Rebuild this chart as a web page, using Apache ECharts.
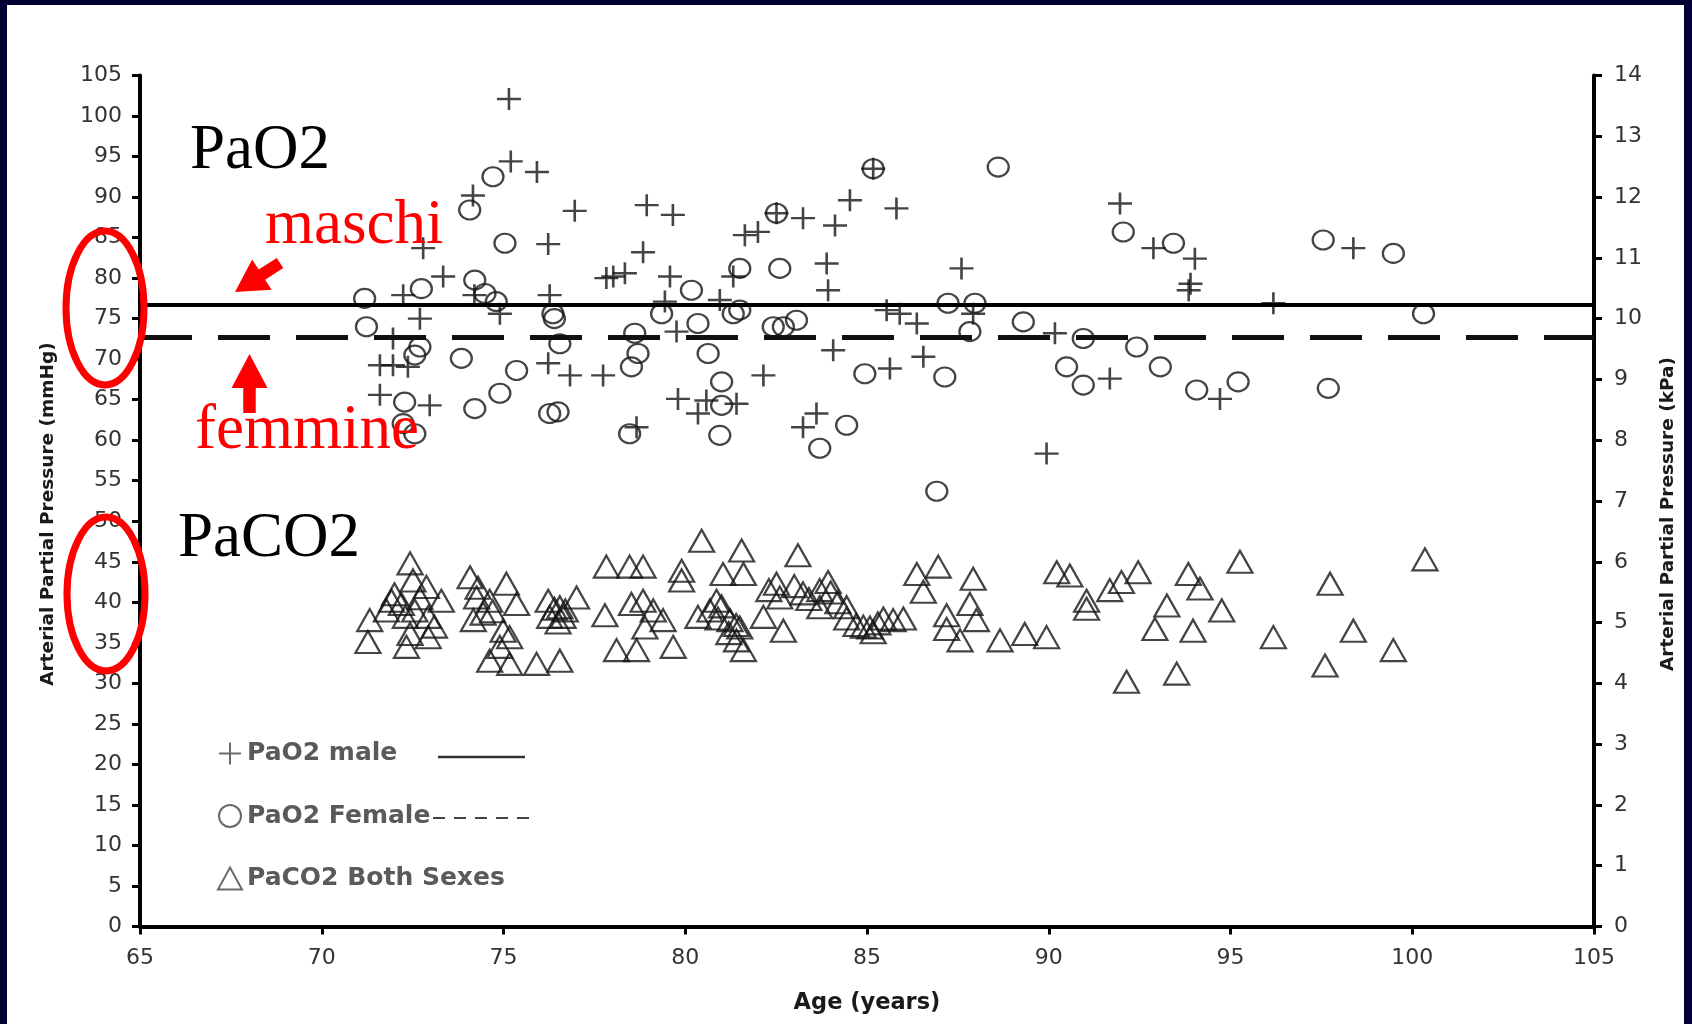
<!DOCTYPE html>
<html><head><meta charset="utf-8">
<script src="https://cdn.jsdelivr.net/npm/echarts@6/dist/echarts.min.js"></script>
<style>
html,body{margin:0;padding:0;background:#000033;width:1692px;height:1024px;overflow:hidden}
#paper{position:absolute;left:7px;top:5px;width:1677px;height:1019px;background:#fff}
#chart{position:absolute;left:0;top:0;width:1692px;height:1024px}
</style></head><body>
<div id="paper"></div><div id="chart"></div>
<script>
// ---- data ----
const ageMin = 65, ageMax = 105;
const mmHgMax = 105, kPaMax = 14;
const maleMean = 76.7;
const femaleMean = 72.75;

const maleAge = [75.15,75.2,75.92,74.16,76.96,78.94,79.66,76.23,78.84,72.79,73.34,77.83,78.02,78.34,79.58,72.24,72.7,76.27,79.44,74.2,74.9,71.96,71.6,71.96,72.37,71.6,72.97,76.23,76.83,77.74,78.66,79.8,79.76,81.64,82.0,82.51,83.24,84.12,84.53,85.17,85.81,83.89,83.93,81.32,80.95,85.54,85.9,86.37,87.6,87.92,84.07,82.15,85.63,86.55,80.58,81.41,80.35,83.61,83.24,89.94,90.17,91.68,91.96,92.88,94.02,93.9,93.85,96.18,98.38,94.71];
const malePaO2 = [102.1,94.4,93.1,90.2,88.3,89.0,87.8,84.2,83.2,83.7,80.2,80.0,80.2,80.6,80.2,77.9,75.0,77.9,77.1,77.9,75.6,72.55,69.25,69.25,69.05,65.6,64.3,69.5,68.0,68.0,61.6,65.1,73.4,85.3,85.7,88.0,87.4,86.5,89.6,93.5,88.6,81.8,78.5,80.2,77.3,76.05,75.6,74.4,81.2,75.6,71.1,68.0,68.85,70.3,64.9,64.5,63.3,63.3,61.6,58.35,73.2,67.6,89.2,83.7,82.4,79.3,78.5,76.9,83.7,65.1];

const femaleAge = [74.71,74.07,75.04,71.18,72.74,74.21,74.49,74.8,76.36,76.4,76.55,71.23,72.7,72.56,73.84,75.36,74.9,74.21,76.27,76.5,72.28,72.24,72.56,78.52,78.7,78.61,79.35,78.47,85.17,88.61,82.51,92.05,81.5,82.6,80.17,80.35,81.32,81.5,82.42,82.7,83.06,80.63,81.0,81.0,80.95,83.7,84.44,84.94,87.14,87.23,87.97,87.83,89.3,90.95,90.49,90.95,92.42,93.07,93.43,97.55,99.48,100.31,94.07,95.21,97.69,86.92];
const femalePaO2 = [92.5,88.4,84.3,77.5,78.7,79.75,78.1,77.1,75.6,75.0,71.9,74.0,71.5,70.5,70.1,68.6,65.8,63.9,63.3,63.5,64.7,62.05,60.8,69.05,70.7,73.2,75.6,60.8,93.5,93.7,88.0,85.7,81.2,81.2,78.5,74.4,75.6,76.05,74.0,74.0,74.8,70.7,67.2,64.3,60.6,59.0,61.85,68.2,67.8,76.9,76.9,73.4,74.6,72.55,69.05,66.8,71.5,69.05,84.3,84.7,83.05,75.6,66.2,67.2,66.4,53.7];

const co2Age = [72.43,71.27,71.32,71.92,72.33,72.51,72.88,72.19,72.56,72.93,72.43,72.93,73.29,71.78,72.0,72.7,72.3,73.1,74.08,75.08,74.26,74.62,75.36,74.17,74.44,74.99,75.17,74.62,75.17,75.91,76.55,74.9,74.3,74.7,76.23,76.55,77.01,76.27,76.64,76.4,76.7,76.5,77.83,78.47,78.84,77.79,78.11,78.66,78.52,78.84,79.12,78.89,79.67,79.39,80.45,79.9,79.9,81.55,81.04,81.6,83.1,80.35,80.68,80.86,81.23,81.5,81.41,81.6,80.9,81.2,81.4,81.0,82.15,82.6,82.7,82.51,82.3,83.0,83.24,83.7,83.7,83.4,83.93,84.44,84.44,84.2,84.0,84.7,84.9,85.3,85.08,85.45,85.72,86.0,85.17,86.37,86.96,86.55,87.92,87.83,87.19,88.01,87.19,87.56,88.66,89.34,89.94,90.22,90.58,91.04,91.04,91.68,92.0,92.46,93.84,94.16,93.25,94.76,92.92,93.97,95.26,96.18,92.14,93.52,97.74,98.38,97.6,99.48,100.35];
const co2PaCO2 = [44.8,35.1,37.8,40.2,34.5,42.7,41.9,39.8,39.0,38.2,36.1,35.7,40.2,39.0,41.0,40.5,38.2,37.0,43.1,42.3,40.6,40.2,39.8,37.8,38.6,36.5,35.7,32.8,32.4,32.4,32.8,34.5,41.8,38.9,40.2,39.4,40.6,38.2,38.2,39.2,39.0,37.5,44.4,44.4,44.4,38.4,34.1,34.1,39.8,40.2,39.0,36.9,34.5,37.8,47.6,43.9,42.7,46.4,43.5,43.5,45.8,38.2,39.0,40.2,37.8,36.9,35.3,34.1,38.0,36.2,37.2,39.5,38.2,40.6,36.5,42.3,41.5,42.0,41.1,41.5,39.4,40.4,42.5,39.4,38.0,40.0,41.2,37.2,37.0,37.4,36.9,38.0,37.8,38.0,36.3,43.5,44.4,41.3,42.9,39.8,38.4,37.8,36.7,35.3,35.3,36.1,35.7,43.7,43.3,40.2,39.2,41.5,42.5,43.7,43.5,41.7,39.6,39.0,36.7,36.5,45.0,35.7,30.2,31.2,42.3,36.5,32.2,34.1,45.3];

const seriesNames = ['PaO2 male', 'PaO2 Female', 'PaCO2 Both Sexes'];
const xAxisName = 'Age (years)';
const yLeftName = 'Arterial Partial Pressure (mmHg)';
const yRightName = 'Arterial Partial Pressure (kPa)';

// ---- build ----
const zip = (a, b) => a.map((v, i) => [v, b[i]]);
const plusPath = 'path://M12,0 L12,24 M0,12 L24,12';
const markStyle = {color: 'rgba(0,0,0,0)', borderColor: '#151515', borderWidth: 2.2};
const tickFont = {fontFamily: 'DejaVu Sans', fontSize: 22, color: '#333'};
const nameFont = {fontFamily: 'DejaVu Sans', fontWeight: 'bold', color: '#1a1a1a'};
const serif = '63px "Liberation Serif", "Times New Roman", serif';

function arrow(x1, y1, x2, y2, sw, hl, hw) {
  const L = Math.hypot(x2 - x1, y2 - y1), dx = (x2 - x1) / L, dy = (y2 - y1) / L;
  const nx = -dy, ny = dx, bx = x2 - dx * hl, by = y2 - dy * hl;
  return [[x1 + nx * sw / 2, y1 + ny * sw / 2], [bx + nx * sw / 2, by + ny * sw / 2], [bx + nx * hw / 2, by + ny * hw / 2],
          [x2, y2], [bx - nx * hw / 2, by - ny * hw / 2], [bx - nx * sw / 2, by - ny * sw / 2], [x1 - nx * sw / 2, y1 - ny * sw / 2]];
}

const chart = echarts.init(document.getElementById('chart'), null, {renderer: 'canvas'});
chart.setOption({
  animation: false,
  backgroundColor: 'transparent',
  grid: {left: 140, right: 98, top: 75.5, bottom: 97.5},
  xAxis: {
    type: 'value', min: ageMin, max: ageMax, interval: 5,
    name: xAxisName, nameLocation: 'middle', nameGap: 65,
    nameTextStyle: Object.assign({fontSize: 22.5}, nameFont),
    axisLine: {lineStyle: {color: '#000', width: 4}},
    axisTick: {length: 8, lineStyle: {color: '#000', width: 3}},
    axisLabel: Object.assign({margin: 21}, tickFont),
    splitLine: {show: false}
  },
  yAxis: [{
    type: 'value', min: 0, max: mmHgMax, interval: 5, position: 'left',
    name: yLeftName, nameLocation: 'middle', nameRotate: 90, nameGap: 82,
    nameTextStyle: Object.assign({fontSize: 18.5, padding: [0, 26, 0, 0]}, nameFont),
    axisLine: {show: true, lineStyle: {color: '#000', width: 4}},
    axisTick: {show: true, length: 8, lineStyle: {color: '#000', width: 3}},
    axisLabel: Object.assign({margin: 18}, tickFont),
    splitLine: {show: false}
  }, {
    type: 'value', min: 0, max: kPaMax, interval: 1, position: 'right',
    name: yRightName, nameLocation: 'middle', nameRotate: 90, nameGap: 65,
    nameTextStyle: Object.assign({fontSize: 18.5, padding: [0, 26, 0, 0]}, nameFont),
    axisLine: {show: true, lineStyle: {color: '#000', width: 4}},
    axisTick: {show: true, length: 8, lineStyle: {color: '#000', width: 3}},
    axisLabel: Object.assign({margin: 20}, tickFont),
    splitLine: {show: false}
  }],
  legend: {
    orient: 'vertical', left: 212, top: 736, itemWidth: 24, itemHeight: 22, itemGap: 37.5,
    textStyle: {fontFamily: 'DejaVu Sans', fontWeight: 'bold', fontSize: 25, color: '#5a5a5a', lineHeight: 22},
    data: [
      {name: seriesNames[0], icon: plusPath, itemStyle: {color: 'rgba(0,0,0,0)', borderColor: '#444', borderWidth: 2}},
      {name: seriesNames[1], icon: 'circle', itemStyle: {color: 'rgba(0,0,0,0)', borderColor: '#444', borderWidth: 2}},
      {name: seriesNames[2], icon: 'triangle', itemStyle: {color: 'rgba(0,0,0,0)', borderColor: '#444', borderWidth: 2}}
    ]
  },
  series: [{
    name: seriesNames[0], type: 'scatter', symbol: plusPath, symbolSize: [24, 22],
    itemStyle: Object.assign({}, markStyle, {borderWidth: 2.5}),
    data: zip(maleAge, malePaO2),
    markLine: {silent: true, symbol: 'none', label: {show: false},
      lineStyle: {color: '#000', width: 4, type: 'solid'}, data: [{yAxis: maleMean}]}
  }, {
    name: seriesNames[1], type: 'scatter', symbol: 'circle', symbolSize: [21, 19],
    itemStyle: markStyle,
    data: zip(femaleAge, femalePaO2),
    markLine: {silent: true, symbol: 'none', label: {show: false},
      lineStyle: {color: '#111', width: 5, type: [52, 26]}, data: [{yAxis: femaleMean}]}
  }, {
    name: seriesNames[2], type: 'scatter', symbol: 'triangle', symbolSize: [25, 22],
    itemStyle: markStyle,
    data: zip(co2Age, co2PaCO2)
  }],
  graphic: [
    {type: 'line', shape: {x1: 438, y1: 757, x2: 525, y2: 757}, style: {stroke: '#333', lineWidth: 2.5}},
    {type: 'line', shape: {x1: 433, y1: 818, x2: 535, y2: 818}, style: {stroke: '#444', lineWidth: 2, lineDash: [12, 9]}},
    {type: 'text', x: 190, y: 151, z: 50, style: {text: 'PaO2', font: serif, fill: '#000', verticalAlign: 'middle'}},
    {type: 'text', x: 178, y: 539.5, z: 50, style: {text: 'PaCO2', font: serif, fill: '#000', verticalAlign: 'middle'}},
    {type: 'text', x: 265, y: 226, z: 50, style: {text: 'maschi', font: serif, fill: '#ff0000', verticalAlign: 'middle'}},
    {type: 'text', x: 195, y: 431, z: 50, style: {text: 'femmine', font: serif, fill: '#ff0000', verticalAlign: 'middle'}},
    {type: 'polygon', z: 50, shape: {points: arrow(280, 263, 235, 292, 12, 32, 36)}, style: {fill: '#ff0000'}},
    {type: 'polygon', z: 50, shape: {points: arrow(249.5, 413, 249.5, 354, 12.5, 34, 36)}, style: {fill: '#ff0000'}},
    {type: 'ellipse', z: 60, shape: {cx: 105, cy: 308, rx: 39, ry: 77}, style: {fill: 'none', stroke: '#ff0000', lineWidth: 7}},
    {type: 'ellipse', z: 60, shape: {cx: 106, cy: 594, rx: 39, ry: 77}, style: {fill: 'none', stroke: '#ff0000', lineWidth: 7}}
  ]
});
</script>
</body></html>
